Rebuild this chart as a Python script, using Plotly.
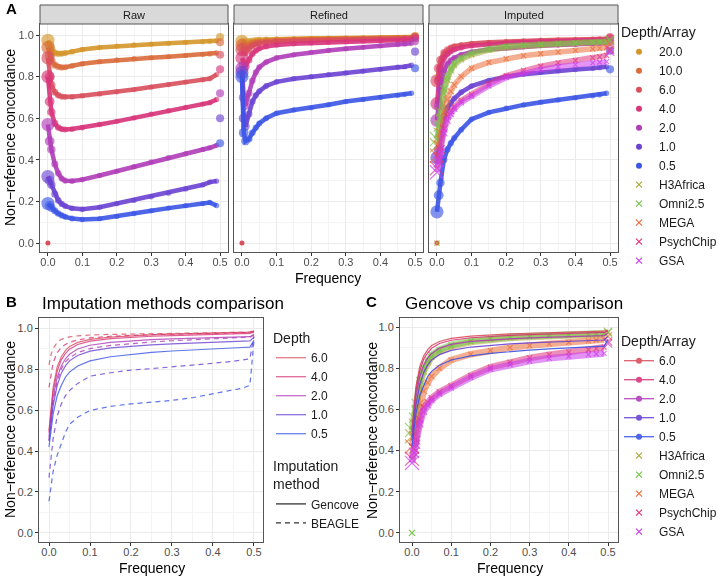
import numpy as np
import plotly.graph_objects as go

# ---------------------------------------------------------------- data
# allele-frequency bins and relative number of sites in each bin
FREQ = [0.0, 0.005, 0.01, 0.02, 0.03, 0.04, 0.05, 0.07, 0.1, 0.15, 0.2,
        0.25, 0.3, 0.35, 0.4, 0.45, 0.47, 0.49, 0.5]
SITES = [50, 20, 12, 6, 4, 3, 2.5, 2, 1.5, 1, 1, 1, 1, 1, 1, 1, 1, 1, 10]

DEPTHS = ["20.0", "10.0", "6.0", "4.0", "2.0", "1.0", "0.5"]
ARRAYS = ["H3Africa", "Omni2.5", "MEGA", "PsychChip", "GSA"]

# panel A: raw genotype calls
RAW_20 = [0.975, 0.95, 0.93, 0.913, 0.91, 0.911, 0.913, 0.92, 0.93, 0.94, 0.947, 0.952, 0.956, 0.96, 0.964, 0.968, 0.97, 0.973, 0.99]
RAW_10 = [0.94, 0.90, 0.875, 0.855, 0.847, 0.844, 0.845, 0.852, 0.862, 0.872, 0.88, 0.886, 0.891, 0.896, 0.901, 0.906, 0.909, 0.914, 0.965]
RAW_6 = [0.89, 0.80, 0.76, 0.725, 0.71, 0.704, 0.702, 0.703, 0.708, 0.717, 0.727, 0.738, 0.75, 0.762, 0.774, 0.785, 0.79, 0.81, 0.905]
RAW_4 = [0.80, 0.68, 0.63, 0.575, 0.555, 0.548, 0.546, 0.548, 0.555, 0.57, 0.585, 0.602, 0.62, 0.636, 0.652, 0.668, 0.675, 0.69, 0.835]
RAW_2 = [0.57, 0.49, 0.45, 0.38, 0.335, 0.31, 0.30, 0.298, 0.305, 0.325, 0.345, 0.367, 0.39, 0.41, 0.43, 0.45, 0.458, 0.47, 0.72]
RAW_1 = [0.32, 0.30, 0.28, 0.235, 0.205, 0.188, 0.178, 0.167, 0.162, 0.172, 0.19, 0.205, 0.222, 0.24, 0.26, 0.28, 0.293, 0.298, 0.60]
RAW_05 = [0.19, 0.18, 0.17, 0.155, 0.142, 0.133, 0.126, 0.118, 0.113, 0.117, 0.128, 0.142, 0.155, 0.168, 0.18, 0.19, 0.195, 0.18, 0.48]

# panel A: refined calls
REF_20 = [0.97, 0.965, 0.965, 0.968, 0.972, 0.975, 0.977, 0.979, 0.981, 0.983, 0.984, 0.985, 0.986, 0.987, 0.988, 0.989, 0.989, 0.99, 0.995]
REF_10 = [0.95, 0.945, 0.945, 0.952, 0.96, 0.965, 0.968, 0.972, 0.975, 0.978, 0.98, 0.981, 0.982, 0.984, 0.985, 0.986, 0.987, 0.988, 0.993]
REF_6 = [0.93, 0.92, 0.92, 0.935, 0.948, 0.955, 0.96, 0.965, 0.969, 0.973, 0.975, 0.977, 0.978, 0.98, 0.981, 0.982, 0.983, 0.985, 0.99]
REF_4 = [0.89, 0.86, 0.85, 0.88, 0.91, 0.925, 0.935, 0.945, 0.952, 0.958, 0.962, 0.965, 0.968, 0.971, 0.973, 0.975, 0.976, 0.978, 0.985]
REF_2 = [0.84, 0.70, 0.66, 0.72, 0.78, 0.82, 0.845, 0.87, 0.89, 0.905, 0.917, 0.926, 0.934, 0.941, 0.948, 0.954, 0.957, 0.96, 0.97]
REF_1 = [0.82, 0.60, 0.56, 0.62, 0.68, 0.71, 0.73, 0.755, 0.775, 0.79, 0.80, 0.81, 0.818, 0.826, 0.835, 0.845, 0.848, 0.855, 0.92]
REF_05 = [0.80, 0.53, 0.49, 0.50, 0.53, 0.555, 0.575, 0.60, 0.624, 0.64, 0.65, 0.665, 0.68, 0.69, 0.70, 0.71, 0.715, 0.72, 0.84]

# panel A: imputed calls
IMP_6 = [0.78, 0.84, 0.88, 0.915, 0.93, 0.94, 0.946, 0.953, 0.959, 0.965, 0.969, 0.972, 0.975, 0.977, 0.979, 0.98, 0.981, 0.982, 0.99]
IMP_4 = [0.67, 0.78, 0.84, 0.89, 0.91, 0.922, 0.93, 0.94, 0.949, 0.957, 0.962, 0.966, 0.969, 0.971, 0.973, 0.975, 0.976, 0.977, 0.985]
IMP_2 = [0.59, 0.66, 0.74, 0.825, 0.86, 0.878, 0.89, 0.905, 0.918, 0.93, 0.938, 0.944, 0.949, 0.952, 0.955, 0.958, 0.96, 0.962, 0.965]
IMP_1 = [0.41, 0.45, 0.52, 0.61, 0.65, 0.675, 0.695, 0.725, 0.755, 0.782, 0.80, 0.812, 0.821, 0.828, 0.834, 0.84, 0.843, 0.847, 0.925]
IMP_05 = [0.15, 0.23, 0.29, 0.40, 0.45, 0.48, 0.505, 0.545, 0.595, 0.628, 0.648, 0.664, 0.677, 0.688, 0.698, 0.708, 0.713, 0.72, 0.835]

# genotyping arrays
CHIP_H3AFRICA = [0.47, 0.53, 0.60, 0.72, 0.785, 0.83, 0.855, 0.882, 0.905, 0.927, 0.94, 0.947, 0.952, 0.956, 0.959, 0.962, 0.964, 0.966, 0.972]
CHIP_OMNI = [0.50, 0.56, 0.63, 0.74, 0.80, 0.84, 0.865, 0.89, 0.913, 0.933, 0.946, 0.952, 0.957, 0.96, 0.963, 0.966, 0.968, 0.97, 0.977]
CHIP_MEGA = [0.42, 0.47, 0.53, 0.63, 0.69, 0.73, 0.76, 0.80, 0.84, 0.868, 0.886, 0.90, 0.91, 0.918, 0.926, 0.933, 0.936, 0.94, 0.955]
CHIP_PSYCH = [0.36, 0.41, 0.45, 0.55, 0.61, 0.635, 0.655, 0.685, 0.715, 0.765, 0.805, 0.83, 0.85, 0.866, 0.878, 0.89, 0.895, 0.902, 0.93]
CHIP_GSA = [0.34, 0.39, 0.43, 0.53, 0.59, 0.62, 0.645, 0.675, 0.705, 0.755, 0.795, 0.818, 0.835, 0.848, 0.858, 0.866, 0.869, 0.872, 0.92]

# panel B/C: Gencove vs BEAGLE imputation
GENCOVE_6 = [0.50, 0.62, 0.71, 0.81, 0.86, 0.89, 0.91, 0.93, 0.945, 0.956, 0.963, 0.967, 0.97, 0.973, 0.975, 0.977, 0.978, 0.98, 0.985]
GENCOVE_4 = [0.49, 0.60, 0.69, 0.79, 0.845, 0.875, 0.897, 0.92, 0.936, 0.948, 0.955, 0.96, 0.963, 0.966, 0.969, 0.971, 0.972, 0.974, 0.98]
GENCOVE_2 = [0.47, 0.58, 0.66, 0.76, 0.815, 0.85, 0.872, 0.898, 0.916, 0.93, 0.938, 0.943, 0.947, 0.95, 0.953, 0.956, 0.957, 0.958, 0.97]
GENCOVE_1 = [0.45, 0.55, 0.62, 0.72, 0.78, 0.815, 0.84, 0.866, 0.887, 0.903, 0.912, 0.918, 0.923, 0.927, 0.931, 0.934, 0.935, 0.937, 0.955]
GENCOVE_05 = [0.42, 0.51, 0.58, 0.67, 0.72, 0.76, 0.785, 0.815, 0.84, 0.86, 0.872, 0.881, 0.888, 0.894, 0.899, 0.904, 0.905, 0.907, 0.94]
BEAGLE_6 = [0.82, 0.87, 0.90, 0.93, 0.945, 0.952, 0.957, 0.962, 0.966, 0.969, 0.971, 0.973, 0.975, 0.976, 0.977, 0.978, 0.979, 0.98, 0.99]
BEAGLE_4 = [0.71, 0.78, 0.83, 0.88, 0.905, 0.92, 0.93, 0.942, 0.952, 0.96, 0.965, 0.968, 0.97, 0.972, 0.974, 0.976, 0.977, 0.978, 0.985]
BEAGLE_2 = [0.45, 0.56, 0.64, 0.74, 0.80, 0.835, 0.855, 0.88, 0.90, 0.915, 0.925, 0.932, 0.938, 0.943, 0.948, 0.952, 0.954, 0.956, 0.965]
BEAGLE_1 = [0.27, 0.38, 0.46, 0.57, 0.63, 0.67, 0.695, 0.73, 0.765, 0.782, 0.795, 0.802, 0.81, 0.818, 0.828, 0.838, 0.843, 0.85, 0.96]
BEAGLE_05 = [0.155, 0.24, 0.30, 0.38, 0.44, 0.49, 0.53, 0.565, 0.598, 0.618, 0.63, 0.638, 0.647, 0.66, 0.68, 0.698, 0.706, 0.72, 0.94]

# single monomorphic bin with zero concordance
ZERO_FREQ = [0.0]
ZERO_NRC = [0.0]

raw = dict(zip(DEPTHS, [RAW_20, RAW_10, RAW_6, RAW_4, RAW_2, RAW_1, RAW_05]))
refined = dict(zip(DEPTHS, [REF_20, REF_10, REF_6, REF_4, REF_2, REF_1, REF_05]))
imputed = dict(zip(DEPTHS[2:], [IMP_6, IMP_4, IMP_2, IMP_1, IMP_05]))
chips = dict(zip(ARRAYS, [CHIP_H3AFRICA, CHIP_OMNI, CHIP_MEGA, CHIP_PSYCH, CHIP_GSA]))
gencove = dict(zip(DEPTHS[2:], [GENCOVE_6, GENCOVE_4, GENCOVE_2, GENCOVE_1, GENCOVE_05]))
beagle = dict(zip(DEPTHS[2:], [BEAGLE_6, BEAGLE_4, BEAGLE_2, BEAGLE_1, BEAGLE_05]))

depth_colors = {"20.0": "#D4962A", "10.0": "#DA6B3A", "6.0": "#D94F5C", "4.0": "#D8347A",
                "2.0": "#B03CB8", "1.0": "#6B42D2", "0.5": "#3B55E6"}
chip_colors = {"H3Africa": "#ACA83C", "Omni2.5": "#76C44C", "MEGA": "#EC6E3A",
               "PsychChip": "#E0357E", "GSA": "#CC3CEE"}

W, H = 718, 580
FONT = "Liberation Sans, Arial, sans-serif"
dot_size = 4 + 1.3 * np.sqrt(SITES)
cross_size = 3.5 + 1.5 * np.sqrt(SITES)


def px(x):
    return x / W


def py(y):
    return 1 - y / H


fig = go.Figure()


def add_dots(values, color, xa, ya):
    # thick band for the dense bins, then the bin points sized by site count
    fig.add_trace(go.Scatter(x=FREQ[:-1], y=values[:-1], mode="lines", xaxis=xa, yaxis=ya,
                             line=dict(color=color, width=4.5), opacity=0.9,
                             showlegend=False, hoverinfo="skip"))
    fig.add_trace(go.Scatter(x=FREQ, y=values, mode="markers", xaxis=xa, yaxis=ya,
                             marker=dict(color=color, size=dot_size, line=dict(width=0)),
                             opacity=0.9, showlegend=False, cliponaxis=False))


def add_crosses(values, color, xa, ya, band=5.5):
    fig.add_trace(go.Scatter(x=FREQ[:-1], y=values[:-1], mode="lines", xaxis=xa, yaxis=ya,
                             line=dict(color=color, width=band), opacity=0.55,
                             showlegend=False, hoverinfo="skip"))
    fig.add_trace(go.Scatter(x=FREQ, y=values, mode="markers", xaxis=xa, yaxis=ya,
                             marker=dict(symbol="x-thin", color=color, size=cross_size,
                                         line=dict(width=1.2, color=color)),
                             showlegend=False, cliponaxis=False))


# A: raw / refined / imputed facets
for d in DEPTHS:
    add_dots(raw[d], depth_colors[d], "x", "y")
    add_dots(refined[d], depth_colors[d], "x2", "y2")
for d in imputed:
    add_dots(imputed[d], depth_colors[d], "x3", "y3")
for c in ARRAYS:
    add_crosses(chips[c], chip_colors[c], "x3", "y3")
for xa, ya in [("x", "y"), ("x2", "y2"), ("x3", "y3")]:
    fig.add_trace(go.Scatter(x=ZERO_FREQ, y=ZERO_NRC, mode="markers", xaxis=xa, yaxis=ya,
                             marker=dict(color=depth_colors["6.0"], size=5), showlegend=False))
fig.add_trace(go.Scatter(x=ZERO_FREQ, y=ZERO_NRC, mode="markers", xaxis="x3", yaxis="y3",
                         marker=dict(symbol="x-thin", size=5, color=chip_colors["H3Africa"],
                                     line=dict(width=1.2, color=chip_colors["H3Africa"])),
                         showlegend=False))

# B: imputation methods
for d in gencove:
    fig.add_trace(go.Scatter(x=FREQ, y=gencove[d], mode="lines", xaxis="x4", yaxis="y4",
                             line=dict(color=depth_colors[d], width=1.2), opacity=0.8,
                             showlegend=False))
    fig.add_trace(go.Scatter(x=FREQ, y=beagle[d], mode="lines", xaxis="x4", yaxis="y4",
                             line=dict(color=depth_colors[d], width=1.2, dash="5px,4px"),
                             opacity=0.8, showlegend=False))

# C: Gencove vs chips
for c in ARRAYS:
    add_crosses(chips[c], chip_colors[c], "x5", "y5", band=6.5)
fig.add_trace(go.Scatter(x=ZERO_FREQ, y=ZERO_NRC, mode="markers", xaxis="x5", yaxis="y5",
                         marker=dict(symbol="x-thin", size=6, color=chip_colors["Omni2.5"],
                                     line=dict(width=1.2, color=chip_colors["Omni2.5"])),
                         showlegend=False))
for d in gencove:
    fig.add_trace(go.Scatter(x=FREQ, y=gencove[d], mode="lines", xaxis="x5", yaxis="y5",
                             line=dict(color=depth_colors[d], width=1.2), opacity=0.9,
                             showlegend=False))

# legend-only entries
for d in DEPTHS:
    fig.add_trace(go.Scatter(x=[None], y=[None], mode="markers", name=d, legend="legend",
                             marker=dict(color=depth_colors[d], size=6)))
for c in ARRAYS:
    fig.add_trace(go.Scatter(x=[None], y=[None], mode="markers", name=c, legend="legend",
                             marker=dict(symbol="x-thin", size=6, color=chip_colors[c],
                                         line=dict(width=1.2, color=chip_colors[c]))))
for d in gencove:
    fig.add_trace(go.Scatter(x=[None], y=[None], mode="lines", name=d, legend="legend2",
                             line=dict(color=depth_colors[d], width=1.3), opacity=0.75))
fig.add_trace(go.Scatter(x=[None], y=[None], mode="lines", name="Gencove", legend="legend3",
                         line=dict(color="#333333", width=1.3)))
fig.add_trace(go.Scatter(x=[None], y=[None], mode="lines", name="BEAGLE", legend="legend3",
                         line=dict(color="#333333", width=1.3, dash="5px,4px")))
for d in gencove:
    fig.add_trace(go.Scatter(x=[None], y=[None], mode="lines+markers", name=d, legend="legend4",
                             line=dict(color=depth_colors[d], width=1.3),
                             marker=dict(color=depth_colors[d], size=6), opacity=0.9))
for c in ARRAYS:
    fig.add_trace(go.Scatter(x=[None], y=[None], mode="markers", name=c, legend="legend4",
                             marker=dict(symbol="x-thin", size=6, color=chip_colors[c],
                                         line=dict(width=1.2, color=chip_colors[c]))))


def axis(domain, rng, dtick, minor, labels=True, **kw):
    return dict(domain=domain, range=rng, dtick=dtick, tick0=0, tickformat=".1f",
                showline=True, mirror=True, linecolor="#555555", linewidth=1,
                ticks="outside" if labels else "", ticklen=3, tickcolor="#333333",
                showticklabels=labels, tickfont=dict(size=11, color="#4D4D4D"),
                gridcolor="#EBEBEB", gridwidth=1.1, zeroline=False,
                minor=dict(showgrid=True, gridcolor="#F4F4F4", gridwidth=0.6, dtick=minor, tick0=0),
                **kw)


ya_dom = [py(252), py(24)]
yb_dom = [py(542), py(318)]
legend_common = dict(xanchor="left", yanchor="top", bgcolor="rgba(0,0,0,0)",
                     font=dict(size=12, color="#1A1A1A"), itemwidth=30, traceorder="normal")
xkw = dict(ticklabelstandoff=-3)

fig.update_layout(
    width=W, height=H, margin=dict(l=0, r=0, t=0, b=0, autoexpand=False),
    paper_bgcolor="white", plot_bgcolor="white",
    font=dict(family=FONT, color="#1A1A1A"),
    xaxis=axis([px(40), px(228)], [-0.023, 0.523], 0.1, 0.05, anchor="y", **xkw),
    xaxis2=axis([px(234), px(423)], [-0.023, 0.523], 0.1, 0.05, anchor="y2", **xkw),
    xaxis3=axis([px(429), px(618)], [-0.023, 0.523], 0.1, 0.05, anchor="y3", **xkw),
    yaxis=axis(ya_dom, [-0.043, 1.053], 0.2, 0.1, anchor="x"),
    yaxis2=axis(ya_dom, [-0.043, 1.053], 0.2, 0.1, labels=False, anchor="x2"),
    yaxis3=axis(ya_dom, [-0.043, 1.053], 0.2, 0.1, labels=False, anchor="x3"),
    xaxis4=axis([px(39), px(263)], [-0.0244, 0.522], 0.1, 0.05, anchor="y4", **xkw),
    yaxis4=axis(yb_dom, [-0.044, 1.049], 0.2, 0.1, anchor="x4"),
    xaxis5=axis([px(400), px(618)], [-0.0306, 0.5255], 0.1, 0.05, anchor="y5", **xkw),
    yaxis5=axis(yb_dom, [-0.044, 1.044], 0.2, 0.1, anchor="x5"),
    legend=dict(x=px(619), y=py(19), title=dict(text="Depth/Array", font=dict(size=14)),
                **legend_common),
    legend2=dict(x=px(271), y=py(325), title=dict(text="Depth", font=dict(size=14)),
                 **legend_common),
    legend3=dict(x=px(271), y=py(453), title=dict(text="Imputation<br>method", font=dict(size=14)),
                 **legend_common),
    legend4=dict(x=px(619), y=py(328), title=dict(text="Depth/Array", font=dict(size=14)),
                 **legend_common),
)

# facet strips
for name, x0, x1 in [("Raw", 40, 228), ("Refined", 234, 423), ("Imputed", 429, 618)]:
    fig.add_shape(type="rect", xref="paper", yref="paper", x0=px(x0), x1=px(x1),
                  y0=py(24), y1=py(5), fillcolor="#D9D9D9", line=dict(color="#555555", width=1))
    fig.add_annotation(text=name, xref="paper", yref="paper", x=px((x0 + x1) / 2), y=py(14.5),
                       xanchor="center", yanchor="middle", showarrow=False,
                       font=dict(size=11, color="#1A1A1A"))

# titles and labels
notes = [
    ("<b>A</b>", 4, 9, 15, "left", 0),
    ("<b>B</b>", 4, 301, 15, "left", 0),
    ("<b>C</b>", 364, 301, 15, "left", 0),
    ("Imputation methods comparison", 40, 303, 17, "left", 0),
    ("Gencove vs chip comparison", 403, 303, 17, "left", 0),
    ("Frequency", 328, 278, 14, "center", 0),
    ("Frequency", 152, 568, 14, "center", 0),
    ("Frequency", 510, 568, 14, "center", 0),
    ("Non\u2212reference concordance", 10, 138, 14, "center", -90),
    ("Non\u2212reference concordance", 10, 430, 14, "center", -90),
    ("Non\u2212reference concordance", 372, 430, 14, "center", -90),
]
for text, x, y, size, anchor, angle in notes:
    fig.add_annotation(text=text, xref="paper", yref="paper", x=px(x), y=py(y),
                       xanchor=anchor, yanchor="middle", textangle=angle, showarrow=False,
                       font=dict(size=size, color="#000000"))

# drop the page's default body margin so the figure sits at the window's corner
fig.write_html("out.html", config={"displayModeBar": False},
               post_script="document.body.style.margin = '0';")
